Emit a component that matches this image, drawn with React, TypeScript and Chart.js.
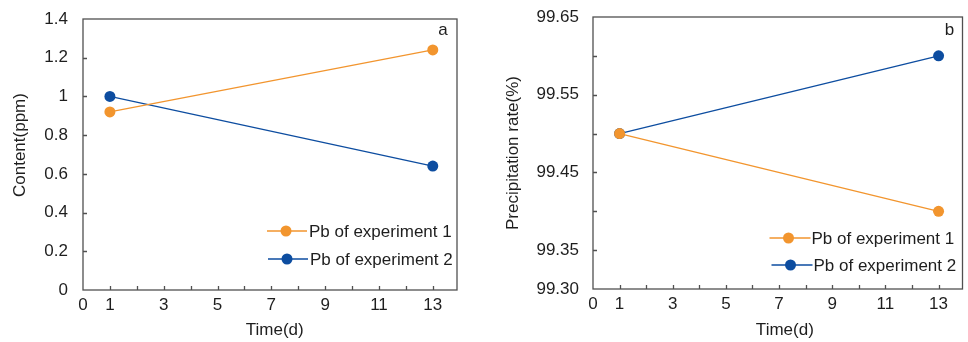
import React, { useEffect, useRef } from "react";
import { Chart, registerables } from "chart.js";

Chart.register(...registerables);

// ---------- data ----------
const days = [1, 13];
const contentExp1 = [0.92, 1.24];
const contentExp2 = [1.0, 0.64];
const rateExp1 = [99.5, 99.4];
const rateExp2 = [99.5, 99.6];

const seriesNames = ["Pb of experiment 1", "Pb of experiment 2"];
const xTickLabels = [0, 1, 3, 5, 7, 9, 11, 13];
const xMinorTicks = [1, 2, 3, 4, 5, 6, 7, 8, 9, 10, 11, 12, 13];
const contentTickLabels = [0, 0.2, 0.4, 0.6, 0.8, 1, 1.2, 1.4];
const contentMinorTicks = [0.2, 0.4, 0.6, 0.8, 1, 1.2];
const rateTickLabels = [99.3, 99.35, 99.45, 99.55, 99.65];
const rateMinorTicks = [99.35, 99.4, 99.45, 99.5, 99.55, 99.6];

// ---------- styles ----------
const ORANGE = "#F2952E";
const BLUE = "#0D4DA0";
const AXIS = "#505050";
const TEXT = "#1e1e1e";
const FONT = "'Liberation Sans', Arial, sans-serif";
const FSIZE = 17;

type PanelCfg = {
  letter: string;
  xTitle: string;
  yTitle: string;
  yMin: number;
  yMax: number;
  yLabels: number[];
  yMinor: number[];
  yFmt: (v: number) => string;
  s1: number[];
  s2: number[];
  pad: { top: number; right: number };
  yWidth: number;
  xHeight: number;
  yTitlePad: number;
  yLabelPad: number;
  legendRows: { dy: number; l0: number; l1: number; m: number; t: number }[];
  letterPos: { dx: number; dy: number };
};

const framePlugin = {
  id: "frame",
  afterDatasetsDraw(chart: any, _args: any, opts: any) {
    const { ctx, chartArea: a, scales } = chart;
    const x = scales.x;
    const y = scales.y;
    ctx.save();
    ctx.strokeStyle = AXIS;
    ctx.lineWidth = 1.3;
    ctx.strokeRect(a.left, a.top, a.right - a.left, a.bottom - a.top);
    ctx.beginPath();
    (opts.xMinor as number[]).forEach((v) => {
      const px = Math.round(x.getPixelForValue(v)) + 0.5;
      ctx.moveTo(px, a.bottom);
      ctx.lineTo(px, a.bottom - 4);
    });
    (opts.yMinor as number[]).forEach((v) => {
      const py = Math.round(y.getPixelForValue(v)) + 0.5;
      ctx.moveTo(a.left, py);
      ctx.lineTo(a.left + 4, py);
    });
    ctx.stroke();

    // legend
    const ds = chart.data.datasets;
    ctx.font = `${FSIZE}px ${FONT}`;
    ctx.textBaseline = "middle";
    ctx.textAlign = "left";
    (opts.legendRows as any[]).forEach((r, i) => {
      const d = ds[i];
      const yy = a.bottom + r.dy;
      ctx.strokeStyle = d.borderColor;
      ctx.lineWidth = 1.3;
      ctx.beginPath();
      ctx.moveTo(a.right + r.l0, yy);
      ctx.lineTo(a.right + r.l1, yy);
      ctx.stroke();
      ctx.fillStyle = d.pointBackgroundColor;
      ctx.beginPath();
      ctx.arc(a.right + r.m, yy, 5.5, 0, Math.PI * 2);
      ctx.fill();
      ctx.fillStyle = TEXT;
      ctx.fillText(d.label, a.right + r.t, yy + 1);
    });

    // panel letter
    ctx.font = `${FSIZE}px ${FONT}`;
    ctx.textAlign = "center";
    ctx.fillStyle = TEXT;
    ctx.fillText(opts.letter, a.right + opts.letterPos.dx, a.top + opts.letterPos.dy);
    ctx.restore();
  },
};

function Panel({ cfg }: { cfg: PanelCfg }) {
  const ref = useRef<HTMLCanvasElement>(null);
  useEffect(() => {
    if (!ref.current) return;
    const mk = (vals: number[]) => days.map((d, i) => ({ x: d, y: vals[i] }));
    const font = { family: FONT, size: FSIZE };
    const chart = new Chart(ref.current, {
      type: "scatter",
      data: {
        datasets: [
          {
            label: seriesNames[0],
            data: mk(cfg.s1),
            showLine: true,
            borderColor: ORANGE,
            backgroundColor: ORANGE,
            pointBackgroundColor: ORANGE,
            pointBorderColor: ORANGE,
            pointBorderWidth: 0,
            pointRadius: 5.5,
            borderWidth: 1.3,
          },
          {
            label: seriesNames[1],
            data: mk(cfg.s2),
            showLine: true,
            borderColor: BLUE,
            backgroundColor: BLUE,
            pointBackgroundColor: BLUE,
            pointBorderColor: BLUE,
            pointBorderWidth: 0,
            pointRadius: 5.5,
            borderWidth: 1.3,
          },
        ],
      },
      options: {
        animation: false,
        responsive: false,
        maintainAspectRatio: false,
        layout: { padding: { top: cfg.pad.top, right: cfg.pad.right, left: 0, bottom: 0 } },
        plugins: {
          legend: { display: false },
          tooltip: { enabled: false },
          frame: {
            xMinor: xMinorTicks,
            yMinor: cfg.yMinor,
            legendRows: cfg.legendRows,
            letter: cfg.letter,
            letterPos: cfg.letterPos,
          },
        } as any,
        scales: {
          x: {
            type: "linear",
            min: 0,
            max: 13.9,
            afterBuildTicks: (s: any) => {
              s.ticks = xTickLabels.map((v) => ({ value: v }));
            },
            afterFit: (s: any) => {
              s.height = cfg.xHeight;
              s.paddingLeft = 0;
              s.paddingRight = 0;
            },
            grid: { display: false, drawTicks: false },
            border: { display: false },
            ticks: {
              font,
              color: TEXT,
              padding: 5,
              maxRotation: 0,
              autoSkip: false,
              callback: (v: any) => String(v),
            },
            title: {
              display: true,
              text: cfg.xTitle,
              font,
              color: TEXT,
              padding: { top: 0, bottom: 1 },
            },
          },
          y: {
            type: "linear",
            min: cfg.yMin,
            max: cfg.yMax,
            afterBuildTicks: (s: any) => {
              s.ticks = cfg.yLabels.map((v) => ({ value: v }));
            },
            afterFit: (s: any) => {
              s.width = cfg.yWidth;
              s.paddingTop = 0;
              s.paddingBottom = 0;
            },
            grid: { display: false, drawTicks: false },
            border: { display: false },
            ticks: {
              font,
              color: TEXT,
              padding: cfg.yLabelPad,
              autoSkip: false,
              callback: (v: any) => cfg.yFmt(Number(v)),
            },
            title: {
              display: true,
              text: cfg.yTitle,
              font,
              color: TEXT,
              padding: { top: cfg.yTitlePad, bottom: 0 },
            },
          },
        },
      },
      plugins: [framePlugin],
    } as any);
    return () => chart.destroy();
  }, [cfg]);
  return <canvas ref={ref} width={484} height={342} style={{ display: "block", width: 484, height: 342 }} />;
}

const panelA: PanelCfg = {
  letter: "a",
  xTitle: "  Time(d)",
  yTitle: "    Content(ppm)",
  yMin: 0,
  yMax: 1.4,
  yLabels: contentTickLabels,
  yMinor: contentMinorTicks,
  yFmt: (v) => String(Math.round(v * 10) / 10),
  s1: contentExp1,
  s2: contentExp2,
  pad: { top: 19, right: 27 },
  yWidth: 83,
  xHeight: 52,
  yTitlePad: 10,
  yLabelPad: 15,
  legendRows: [
    { dy: -59, l0: -190, l1: -150, m: -171, t: -148 },
    { dy: -31, l0: -189, l1: -149, m: -170, t: -147 },
  ],
  letterPos: { dx: -14, dy: 11 },
};

const panelB: PanelCfg = {
  letter: "b",
  xTitle: "   Time(d)",
  yTitle: "Precipitation rate(%)",
  yMin: 99.3,
  yMax: 99.65,
  yLabels: rateTickLabels,
  yMinor: rateMinorTicks,
  yFmt: (v) => v.toFixed(2),
  s1: rateExp1,
  s2: rateExp2,
  pad: { top: 17, right: 1 },
  yWidth: 109,
  xHeight: 53,
  yTitlePad: 19,
  yLabelPad: 14,
  legendRows: [
    { dy: -51, l0: -193, l1: -152, m: -174, t: -151 },
    { dy: -24, l0: -191, l1: -150, m: -172, t: -149 },
  ],
  letterPos: { dx: -13, dy: 13 },
};

export default function App() {
  return (
    <div
      style={{
        position: "fixed",
        left: 0,
        top: 0,
        width: 968,
        height: 342,
        display: "flex",
        background: "#fff",
      }}
    >
      <Panel cfg={panelA} />
      <Panel cfg={panelB} />
    </div>
  );
}
